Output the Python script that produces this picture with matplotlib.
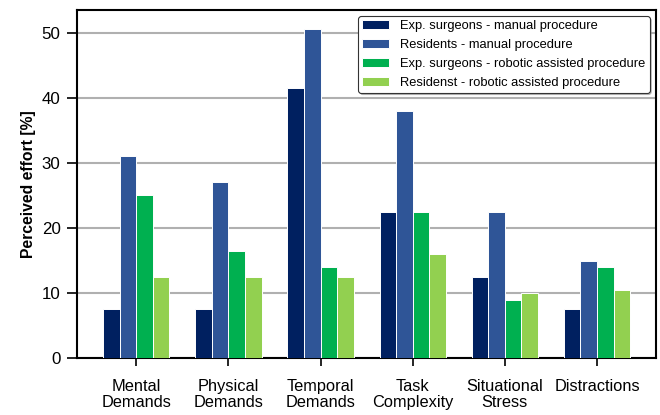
import numpy as np
import matplotlib.pyplot as plt

plt.rcParams['font.family'] = ['Liberation Sans', 'DejaVu Sans']

categories = ['Mental\nDemands', 'Physical\nDemands', 'Temporal\nDemands',
              'Task\nComplexity', 'Situational\nStress', 'Distractions']
series_names = ['Exp. surgeons - manual procedure',
                'Residents - manual procedure',
                'Exp. surgeons - robotic assisted procedure',
                'Residenst - robotic assisted procedure']
exp_manual = [7.5, 7.5, 41.5, 22.5, 12.5, 7.5]
res_manual = [31, 27, 50.5, 38, 22.5, 15]
exp_robotic = [25, 16.5, 14, 22.5, 9, 14]
res_robotic = [12.5, 12.5, 12.5, 16, 10, 10.5]
colors = ['#002060', '#2F5597', '#00B050', '#92D050']

fig = plt.figure(figsize=(6.6, 4.15), dpi=100)
ax = fig.add_axes([0.117, 0.137, 0.877, 0.839])

x = np.arange(len(categories))
w = 0.18
for i, (vals, name, c) in enumerate(zip([exp_manual, res_manual, exp_robotic, res_robotic],
                                        series_names, colors)):
    ax.bar(x + (i - 1.5) * w, vals, w, color=c, edgecolor='white',
           linewidth=0.7, label=name, zorder=3)

ax.set_xlim(-0.64, 5.64)
ax.set_ylim(0, 53.5)
ax.set_yticks([0, 10, 20, 30, 40, 50])
ax.set_xticks(x)
ax.set_xticklabels(categories, fontsize=11.8, linespacing=1.05)
ax.tick_params(axis='y', labelsize=12.2, length=7, width=1.2, pad=5)
ax.tick_params(axis='x', length=6, width=1.2, pad=9)
ax.yaxis.grid(True, color='#b0b0b0', linewidth=1.5, zorder=0)
ax.set_axisbelow(True)
for s in ax.spines.values():
    s.set_linewidth(1.5)
ax.set_ylabel('Perceived effort [%]', fontsize=11.3, fontweight='bold', labelpad=4)

leg = ax.legend(loc='upper right', fontsize=9.3, frameon=True, fancybox=True,
                shadow={'ox': 1.2, 'oy': -1.2, 'color': '#888888'},
                borderpad=0.3, handlelength=2.1, handleheight=0.7,
                handletextpad=0.85, labelspacing=0.53, framealpha=1,
                bbox_to_anchor=(1.0, 1.0), borderaxespad=0.5)
leg.get_frame().set_edgecolor('#333333')
leg.get_frame().set_linewidth(0.8)

fig.savefig('out.png', dpi=100)
